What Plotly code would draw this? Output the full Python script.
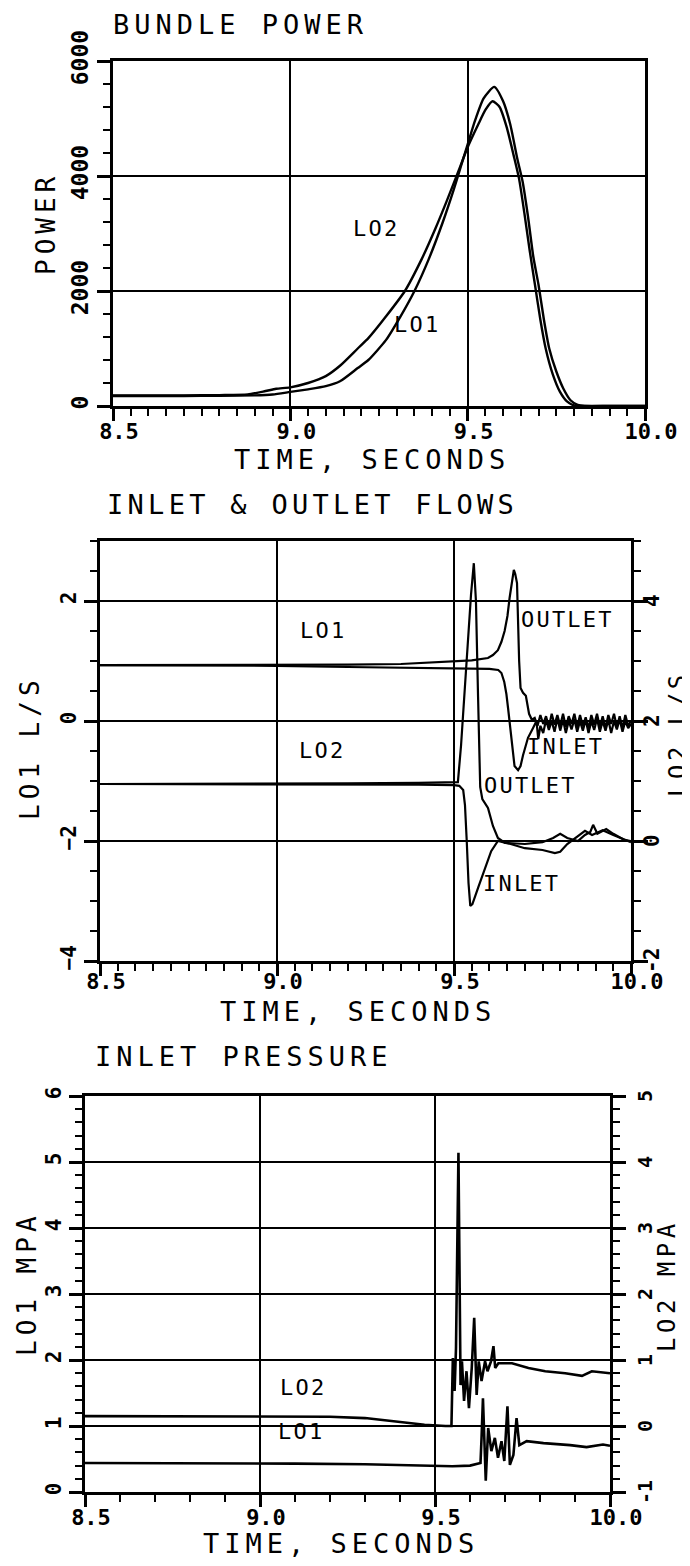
import plotly.graph_objects as go

W, H = 690, 1566
FONT = "DejaVu Sans Mono"

# ---------------- Panel 1: bundle power ----------------
t_pow_lo1 = [8.50, 8.60, 8.70, 8.80, 8.90, 8.95, 9.00, 9.05, 9.10, 9.14, 9.19, 9.22, 9.27, 9.31,
             9.35, 9.39, 9.43, 9.46, 9.48, 9.50, 9.52, 9.545, 9.575, 9.60, 9.62, 9.64, 9.655,
             9.67, 9.685, 9.70, 9.715, 9.73, 9.75, 9.77, 9.79, 9.81, 9.83, 9.90, 10.0]
p_lo1 = [175, 175, 175, 178, 185, 200, 245, 290, 345, 430, 660, 800, 1150, 1550,
         2000, 2550, 3200, 3750, 4150, 4550, 4950, 5350, 5550, 5300, 4900, 4300, 3900,
         3300, 2600, 2100, 1500, 1000, 600, 300, 100, 20, 0, 0, 0]

t_pow_lo2 = [8.50, 8.60, 8.70, 8.80, 8.88, 8.93, 8.96, 9.00, 9.05, 9.10, 9.14, 9.19, 9.22, 9.27,
             9.323, 9.37, 9.41, 9.44, 9.475, 9.50, 9.53, 9.55, 9.57, 9.59, 9.61, 9.63, 9.645,
             9.66, 9.675, 9.69, 9.705, 9.72, 9.74, 9.76, 9.78, 9.80, 9.82, 9.90, 10.0]
p_lo2 = [185, 185, 185, 190, 200, 260, 300, 325, 400, 520, 700, 1000, 1180, 1560,
         2000, 2550, 3100, 3550, 4100, 4500, 4900, 5150, 5300, 5200, 4850, 4350, 3950,
         3350, 2700, 2100, 1500, 1000, 550, 250, 80, 10, 0, 0, 0]

# ---------------- Panel 2: inlet & outlet flows ----------------
# LO1 (left axis, L/S)
t_lo1_out = [8.50, 8.80, 9.00, 9.20, 9.35, 9.45, 9.55, 9.596, 9.61, 9.624, 9.634, 9.643, 9.651,
             9.657, 9.664, 9.669, 9.673, 9.678, 9.684, 9.688, 9.695, 9.703, 9.712, 9.72,
             9.728, 9.736, 9.744, 9.752, 9.760, 9.768, 9.776, 9.784, 9.792, 9.800, 9.808,
             9.816, 9.824, 9.832, 9.840, 9.848, 9.856, 9.864, 9.872, 9.880, 9.888, 9.896,
             9.904, 9.912, 9.920, 9.928, 9.936, 9.944, 9.952, 9.960, 9.968, 9.976, 9.984,
             9.992, 10.0]
v_lo1_out = [0.93, 0.93, 0.93, 0.94, 0.95, 0.98, 1.01, 1.05, 1.10, 1.18, 1.32, 1.50, 1.75,
             2.05, 2.35, 2.52, 2.45, 2.30, 1.00, 0.55, 0.47, 0.42, 0.12, 0.02,
             0.05, -0.08, 0.10, -0.05, 0.08, -0.10, 0.12, -0.06, 0.10, -0.08, 0.12,
             -0.10, 0.08, -0.05, 0.12, -0.10, 0.10, -0.08, 0.06, -0.12, 0.10, -0.06,
             0.12, -0.10, 0.08, -0.12, 0.10, -0.05, 0.12, -0.10, 0.08, -0.12, 0.10,
             -0.08, 0.00]

t_lo1_in = [8.50, 8.80, 9.00, 9.20, 9.40, 9.50, 9.60, 9.625, 9.634, 9.642, 9.648, 9.653,
            9.657, 9.664, 9.671, 9.681, 9.688, 9.695, 9.709, 9.723, 9.733, 9.738, 9.744,
            9.752, 9.760, 9.768, 9.776, 9.784, 9.792, 9.800, 9.808, 9.816, 9.824, 9.832,
            9.840, 9.848, 9.856, 9.864, 9.872, 9.880, 9.888, 9.896, 9.904, 9.912, 9.920,
            9.928, 9.936, 9.944, 9.952, 9.960, 9.968, 9.976, 9.984, 9.992, 10.0]
v_lo1_in = [0.93, 0.93, 0.92, 0.90, 0.88, 0.88, 0.87, 0.85, 0.80, 0.65, 0.45, 0.20,
            0.00, -0.45, -0.75, -0.82, -0.75, -0.57, -0.28, -0.12, 0.00, -0.30, -0.08,
            -0.20, 0.02, -0.15, 0.00, -0.18, 0.04, -0.16, 0.02, -0.20, 0.00, -0.14,
            0.03, -0.18, 0.00, -0.16, 0.02, -0.20, 0.00, -0.15, 0.04, -0.18, 0.00,
            -0.16, 0.02, -0.20, 0.00, -0.14, 0.03, -0.18, 0.00, -0.12, -0.05]

# LO2 (right axis, L/S)
t_lo2_out = [8.50, 8.80, 9.00, 9.20, 9.40, 9.48, 9.511, 9.52, 9.53, 9.54, 9.548, 9.556,
             9.562, 9.568, 9.574, 9.58, 9.596, 9.61, 9.624, 9.644, 9.70, 9.75, 9.78, 9.80,
             9.82, 9.85, 9.87, 9.885, 9.893, 9.905, 9.93, 9.95, 9.98, 10.0]
r_lo2_out = [0.95, 0.95, 0.96, 0.96, 0.97, 0.97, 0.98, 1.60, 2.50, 3.40, 4.10, 4.63,
             4.00, 2.40, 0.90, 0.70, 0.55, 0.25, 0.05, -0.03, -0.05, -0.02, 0.05, 0.12,
             0.05, 0.00, 0.10, 0.15, 0.27, 0.12, 0.20, 0.12, 0.02, 0.00]

t_lo2_in = [8.50, 8.80, 9.00, 9.20, 9.40, 9.50, 9.515, 9.526, 9.531, 9.536, 9.541, 9.546,
            9.552, 9.568, 9.587, 9.605, 9.624, 9.66, 9.70, 9.75, 9.785, 9.80, 9.82, 9.85,
            9.87, 9.89, 9.92, 9.95, 9.98, 10.0]
r_lo2_in = [0.95, 0.95, 0.95, 0.95, 0.94, 0.93, 0.92, 0.85, 0.60, 0.00, -0.70, -1.08,
            -1.05, -0.78, -0.45, -0.17, 0.00, -0.05, -0.12, -0.15, -0.20, -0.18, -0.05, 0.08,
            0.17, 0.10, 0.18, 0.10, 0.02, -0.02]

# ---------------- Panel 3: inlet pressure ----------------
t_p_lo1 = [8.50, 8.70, 8.90, 9.10, 9.30, 9.45, 9.55, 9.60, 9.62, 9.630, 9.633, 9.637,
           9.645, 9.652, 9.661, 9.671, 9.680, 9.690, 9.698, 9.707, 9.714, 9.724, 9.733,
           9.741, 9.762, 9.81, 9.886, 9.933, 9.98, 10.0]
v_p_lo1 = [0.44, 0.44, 0.43, 0.43, 0.42, 0.40, 0.39, 0.40, 0.42, 0.44, 0.82, 1.42,
           0.17, 0.97, 0.62, 0.82, 0.52, 0.77, 0.47, 1.30, 0.41, 0.56, 1.12,
           0.71, 0.77, 0.74, 0.71, 0.68, 0.72, 0.70]

t_p_lo2 = [8.50, 8.80, 9.00, 9.20, 9.30, 9.40, 9.47, 9.53, 9.547, 9.551, 9.556, 9.560,
           9.567, 9.573, 9.577, 9.583, 9.590, 9.597, 9.605, 9.612, 9.619, 9.625, 9.633,
           9.643, 9.650, 9.660, 9.667, 9.672, 9.681, 9.72, 9.767, 9.815, 9.872, 9.92,
           9.948, 10.0]
r_p_lo2 = [0.15, 0.15, 0.14, 0.14, 0.12, 0.06, 0.02, 0.00, 0.00, 1.03, 0.53, 1.18,
           4.14, 0.62, 0.98, 0.38, 0.83, 0.27, 0.88, 1.64, 0.47, 0.98, 0.68,
           0.98, 0.83, 0.98, 1.21, 0.88, 0.95, 0.95, 0.88, 0.83, 0.80, 0.76,
           0.83, 0.80]

x_ticks = [8.5, 9.0, 9.5, 10.0]
x_tick_text = ["8.5", "9.0", "9.5", "10.0"]
flow_right_ticks = [-2, 0, 2, 4]
press_right_ticks = [-1, 0, 1, 2, 3, 4, 5]


def px_x(p):
    return p / W


def px_y(p):
    return 1 - p / H


fig = go.Figure()
line = dict(color="black", width=2.2)
sline = dict(color="black", width=2.4, shape="spline", smoothing=0.6)
fig.add_trace(go.Scatter(x=t_pow_lo1, y=p_lo1, mode="lines", line=sline, xaxis="x", yaxis="y"))
fig.add_trace(go.Scatter(x=t_pow_lo2, y=p_lo2, mode="lines", line=sline, xaxis="x", yaxis="y"))
fig.add_trace(go.Scatter(x=t_lo1_out, y=v_lo1_out, mode="lines", line=line, xaxis="x2", yaxis="y2"))
fig.add_trace(go.Scatter(x=t_lo1_in, y=v_lo1_in, mode="lines", line=line, xaxis="x2", yaxis="y2"))
fig.add_trace(go.Scatter(x=t_lo2_out, y=r_lo2_out, mode="lines", line=line, xaxis="x2", yaxis="y3"))
fig.add_trace(go.Scatter(x=t_lo2_in, y=r_lo2_in, mode="lines", line=line, xaxis="x2", yaxis="y3"))
fig.add_trace(go.Scatter(x=t_p_lo1, y=v_p_lo1, mode="lines", line=dict(color="black", width=2.6), xaxis="x3", yaxis="y4"))
fig.add_trace(go.Scatter(x=t_p_lo2, y=r_p_lo2, mode="lines", line=dict(color="black", width=2.6), xaxis="x3", yaxis="y5"))

tickfont_x = dict(family=FONT, size=22, color="black", weight="bold")


def xaxis(x0, x1, anchor, minor_dt, standoff=-8):
    return dict(domain=[px_x(x0), px_x(x1)], range=[8.5, 10.0], anchor=anchor,
                tickmode="array", tickvals=x_ticks, ticktext=x_tick_text,
                ticks="outside", ticklen=12, tickwidth=2.5, tickcolor="black",
                ticklabelstandoff=standoff,
                minor=dict(dtick=minor_dt, tick0=8.5, ticks="outside", ticklen=7,
                           tickwidth=2, tickcolor="black", showgrid=False),
                showline=True, linewidth=3, linecolor="black", mirror=True,
                showgrid=True, gridcolor="black", gridwidth=1.6, zeroline=False,
                tickfont=tickfont_x, ticklabelshift=6, automargin=False, fixedrange=True)


def yaxis(y0, y1, rng, dt, minor_dt, anchor, side="left", overlay=None, grid=True, tfsize=21,
          ticklen=13):
    d = dict(domain=[px_y(y1), px_y(y0)], range=rng, dtick=dt, tick0=0, anchor=anchor,
             side=side, ticks="outside", ticklen=ticklen, tickwidth=2.5, tickcolor="black",
             minor=dict(dtick=minor_dt, tick0=0, ticks="outside", ticklen=7, tickwidth=2,
                        tickcolor="black", showgrid=False),
             showline=True, linewidth=3, linecolor="black", mirror=grid,
             showgrid=grid, gridcolor="black", gridwidth=1.6, zeroline=False,
             tickangle=-90, tickfont=dict(family=FONT, size=tfsize, color="black", weight="bold"),
             automargin=False, fixedrange=True)
    if overlay:
        d["overlaying"] = overlay
        d["showticklabels"] = False
    return d


fig.update_layout(
    width=W, height=H, margin=dict(l=0, r=0, t=0, b=0),
    paper_bgcolor="white", plot_bgcolor="white", showlegend=False,
    xaxis=xaxis(105, 637, "y", 0.05),
    yaxis=yaxis(53, 398, [0, 6000], 2000, 400, "x", tfsize=23),
    xaxis2=xaxis(92, 623, "y2", 0.05, standoff=-13),
    yaxis2=yaxis(533, 953, [-4, 3], 2, 0.5, "x2"),
    yaxis3=yaxis(533, 953, [-2, 5], 2, 0.5, "x2", side="right", overlay="y2", grid=False,
                 ticklen=14),
    xaxis3=xaxis(77, 602, "y4", 0.1),
    yaxis4=yaxis(1088, 1484, [0, 6], 1, 0.2, "x3"),
    yaxis5=yaxis(1088, 1484, [-1, 5], 1, 0.2, "x3", side="right", overlay="y4", grid=False,
                 ticklen=13),
)

# right-hand tick labels, placed on the right axes' own value scales
for v in flow_right_ticks:
    fig.add_annotation(text=str(v), x=px_x(644), y=v, xref="paper", yref="y3",
                       showarrow=False, xanchor="center", yanchor="middle", textangle=-90,
                       font=dict(family=FONT, size=21, color="black", weight="bold"))
for v in press_right_ticks:
    fig.add_annotation(text=str(v), x=px_x(637), y=v, xref="paper", yref="y5",
                       showarrow=False, xanchor="center", yanchor="middle", textangle=-90,
                       font=dict(family=FONT, size=20, color="black", weight="bold"))


def spaced(s, ls):
    return f'<span style="letter-spacing:{ls}px">{s}</span>'


def ann(text, x, y, size=27, ls=5, angle=0, xanchor="center"):
    # small empirical offsets compensate for the letter-spaced text box
    if angle == 0:
        y = y - 8
        if xanchor == "center":
            x = x - 7
        else:
            x = x - 10
    else:
        x = x - 8
        y = y - 10
    fig.add_annotation(text=spaced(text, ls), x=px_x(x), y=px_y(y), xref="paper", yref="paper",
                       showarrow=False, xanchor=xanchor, yanchor="middle", textangle=angle,
                       font=dict(family=FONT, size=size, color="black"))


# panel titles
ann("BUNDLE POWER", 113, 24, xanchor="left")
ann("INLET & OUTLET FLOWS", 107, 505, ls=4.3, xanchor="left")
ann("INLET PRESSURE", 95, 1056, xanchor="left")
# x-axis titles
ann("TIME, SECONDS", 371, 459)
ann("TIME, SECONDS", 357, 1011)
ann("TIME, SECONDS", 340, 1543)
# y-axis titles
ann("POWER", 46, 226, size=26, angle=-90)
ann("LO1 L/S", 30, 750, size=26, angle=-90)
ann("LO2 L/S", 678, 736, size=24, ls=3.5, angle=-90)
ann("LO1 MPA", 27, 1286, size=26, angle=-90)
ann("LO2 MPA", 667, 1288, size=24, ls=4.5, angle=-90)
# curve labels
lab = dict(size=22, ls=2.2)
ann("LO2", 375, 228, **lab)
ann("LO1", 416, 324, **lab)
ann("LO1", 322, 631, **lab)
ann("LO2", 321, 750, **lab)
ann("OUTLET", 566, 619, **lab)
ann("INLET", 564, 746, **lab)
ann("OUTLET", 529, 785, **lab)
ann("INLET", 520, 884, **lab)
ann("LO2", 302, 1387, **lab)
ann("LO1", 300, 1431, **lab)

fig.write_html("out.html")
